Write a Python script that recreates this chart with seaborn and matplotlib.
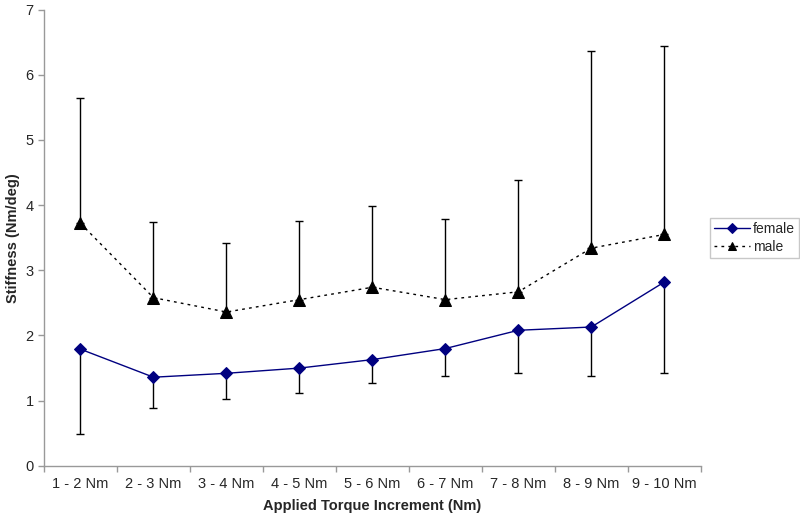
import numpy as np
import pandas as pd
import matplotlib
matplotlib.use("Agg")
import matplotlib.pyplot as plt
import seaborn as sns

categories = ["1 - 2 Nm", "2 - 3 Nm", "3 - 4 Nm", "4 - 5 Nm", "5 - 6 Nm",
              "6 - 7 Nm", "7 - 8 Nm", "8 - 9 Nm", "9 - 10 Nm"]
female_mean = [1.79, 1.36, 1.42, 1.50, 1.63, 1.80, 2.08, 2.13, 2.82]
female_low = [0.49, 0.885, 1.03, 1.12, 1.27, 1.38, 1.42, 1.38, 1.42]
male_mean = [3.72, 2.58, 2.36, 2.55, 2.74, 2.55, 2.67, 3.34, 3.55]
male_high = [5.64, 3.74, 3.42, 3.75, 3.98, 3.78, 4.38, 6.37, 6.44]

sns.set_style("white")
plt.rcParams['font.family'] = ['Liberation Sans', 'DejaVu Sans']

df = pd.DataFrame({
    "increment": categories * 2,
    "stiffness": female_mean + male_mean,
    "group": ["female"] * len(categories) + ["male"] * len(categories),
})

fig = plt.figure(figsize=(8, 5.3), dpi=100)
ax = fig.add_axes([0.055, 0.121, 0.821, 0.861])

x = np.arange(len(categories))
female_err = np.array(female_mean) - np.array(female_low)
male_err = np.array(male_high) - np.array(male_mean)

ax.errorbar(x, female_mean, yerr=[female_err, np.zeros_like(female_err)],
            fmt="none", ecolor="black", elinewidth=1, capsize=3, capthick=1, zorder=2)
ax.errorbar(x, male_mean, yerr=[np.zeros_like(male_err), male_err],
            fmt="none", ecolor="black", elinewidth=1, capsize=3, capthick=1, zorder=2)

sns.lineplot(data=df[df.group == "female"], x="increment", y="stiffness", ax=ax,
             color="#000080", marker="D", markersize=6, markeredgecolor="#000080",
             linewidth=1, label="female", sort=False, zorder=3)
sns.lineplot(data=df[df.group == "male"], x="increment", y="stiffness", ax=ax,
             color="black", marker="^", markersize=8, markeredgecolor="black",
             linewidth=1, linestyle=(0, (2, 3)), label="male", sort=False, zorder=3)

ax.set_xlim(-0.5, len(categories) - 0.5)
ax.set_ylim(0, 7)
ax.set_yticks(range(0, 8))
ax.set_xticks(np.arange(-0.5, len(categories), 1.0))
ax.set_xticklabels([])
ax.set_xticks(x, minor=True)
ax.set_xticklabels(categories, minor=True)
ax.tick_params(axis="x", which="minor", bottom=True, length=0, pad=8, labelsize=10.5)
ax.tick_params(axis="x", which="major", bottom=True, length=4, width=1,
               color="#999999", direction="out")
ax.tick_params(axis="y", left=True, length=4, width=1, color="#999999",
               direction="out", labelsize=10.5)

for s in ["top", "right"]:
    ax.spines[s].set_visible(False)
for s in ["left", "bottom"]:
    ax.spines[s].set_color("#999999")
    ax.spines[s].set_linewidth(1)

ax.set_xlabel("Applied Torque Increment (Nm)", fontweight="bold", fontsize=10.5, labelpad=6)
ax.set_ylabel("Stiffness (Nm/deg)", fontweight="bold", fontsize=10.5, labelpad=4)

leg = ax.legend(loc="center left", bbox_to_anchor=(0.887, 0.551), bbox_transform=fig.transFigure,
                frameon=True, fancybox=False, fontsize=10, borderpad=0.3, markerscale=0.8,
                handlelength=2.6, handletextpad=0.2, labelspacing=0.25, borderaxespad=0)
leg.get_frame().set_edgecolor("#bbbbbb")
leg.get_frame().set_linewidth(1)

fig.savefig("out.png", dpi=100)
